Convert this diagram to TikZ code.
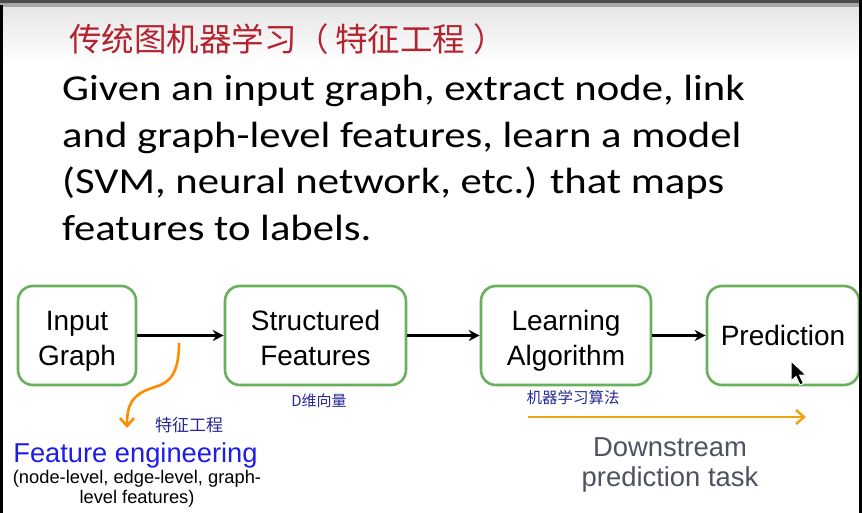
\documentclass[tikz,border=0pt]{standalone}
\usepackage{fontspec}
\setmainfont{Carlito}[FakeStretch=1.17]
\newfontfamily\helv{Liberation Sans}
\newfontfamily\cjk{Noto Sans CJK SC}
\usetikzlibrary{arrows.meta}

\definecolor{boxgreen}{RGB}{104,176,92}
\definecolor{titlered}{RGB}{178,36,48}
\definecolor{penblue}{RGB}{40,40,150}
\definecolor{featblue}{RGB}{28,28,235}
\definecolor{curveorange}{RGB}{255,140,0}
\definecolor{taskgold}{RGB}{236,166,20}
\definecolor{taskgray}{RGB}{78,82,98}

% two lines of text inside a stage box
\newcommand\stagelines[2]{\rule{0pt}{34.5pt}\strut #1\\\strut #2}

\tikzset{
  stagebox/.style={draw=boxgreen, line width=2.6pt, rounded corners=15pt,
    minimum height=99pt, align=center, inner sep=0pt,
    font=\helv\fontsize{28}{35}\selectfont},
  flow/.style={line width=2.2pt, -{Stealth[length=11pt,width=11pt]}},
  penarrow/.style={line width=2.6pt, -{Straight Barb[length=8pt,width=14pt]}},
  pennote/.style={text=penblue, font=\cjk\fontsize{15.5}{17}\selectfont, inner sep=0pt}
}

\begin{document}
\begin{tikzpicture}[x=1pt, y=-1pt]

  % Fix the page size
  \useasboundingbox (0,0) rectangle (862,513);

  % Draw the slide background and the window edges
  \fill[white] (0,0) rectangle (862,513);
  \shade[top color=black!10, bottom color=white] (0,7) rectangle (862,62);
  \fill[black!70] (0,0) rectangle (862,3);
  \fill[black!35] (0,3) rectangle (862,7);

  % Handwritten title
  \node[anchor=west, text=titlered, font=\cjk\fontsize{32.5}{36}\selectfont, inner sep=0pt]
    (title) at (69,39) {传统图机器学习（\hspace{6pt}特征工程\hspace{8pt}）};

  % Main statement
  \node[anchor=north west, align=left, inner sep=0pt,
    font=\fontsize{36.5}{46.5}\selectfont] (statement) at (62,75)
    {Given an input graph, extract node, link\\
     and graph-level features, learn a model\\
     (SVM, neural network, etc.) that maps\\
     features to labels.};

  % The four stages of the pipeline
  \node[stagebox, minimum width=118pt] (input) at (77,335.5) {\stagelines{Input}{Graph}};
  \node[stagebox, minimum width=181pt] (struct) at (315.5,335.5) {\stagelines{Structured}{Features}};
  \node[stagebox, minimum width=170pt] (learn) at (566,335.5) {\stagelines{Learning}{Algorithm}};
  \node[stagebox, minimum width=152pt] (pred) at (783,335.5) {Prediction};

  % Arrows between the stages
  \draw[flow] (input) -- (struct);
  \draw[flow] (struct) -- (learn);
  \draw[flow] (learn) -- (pred);

  % Mouse pointer over the prediction box
  \draw[white, line width=1pt, fill=black] (791,361) -- (791,381) -- (796,376.5)
    -- (800,385) -- (803.5,383.5) -- (799.5,375) -- (806,375) -- cycle;

  % Feature engineering: curved arrow below the first stage
  \coordinate (fe1) at (179,343);
  \coordinate (fe2) at (127,428);
  \draw[penarrow, curveorange] (fe1) .. controls (179,376) and (168,383) .. (155,387)
    .. controls (132,394) and (127,404) .. (fe2);
  \node[pennote, font=\cjk\fontsize{17}{19}\selectfont] (fenote) at (189,425) {特征工程};

  \node[text=featblue, font=\helv\fontsize{27.3}{30}\selectfont, inner sep=0pt]
    (feat) at (135.5,455) {Feature engineering};
  \node[align=center, inner sep=0pt, font=\helv\fontsize{18.3}{20}\selectfont]
    (featlist) at (137,489) {(node-level, edge-level, graph-\\level features)};

  % Notes under the stages
  \node[pennote, font=\cjk\fontsize{15}{17}\selectfont] (dnote) at (319,401) {D维向量};
  \node[pennote] (algnote) at (573,398) {机器学习算法};

  % Downstream task arrow
  \coordinate (ds1) at (528,417);
  \coordinate (ds2) at (806,417);
  \draw[penarrow, taskgold] (ds1) -- (ds2);
  \node[align=center, text=taskgray, inner sep=0pt,
    font=\helv\fontsize{27.4}{30}\selectfont] (task) at (670,465)
    {Downstream\\prediction task};

  % Window edges on the left and right
  \fill[black] (0,5) rectangle (3,513);
  \fill[black] (858.5,0) rectangle (862,513);

\end{tikzpicture}
\end{document}
